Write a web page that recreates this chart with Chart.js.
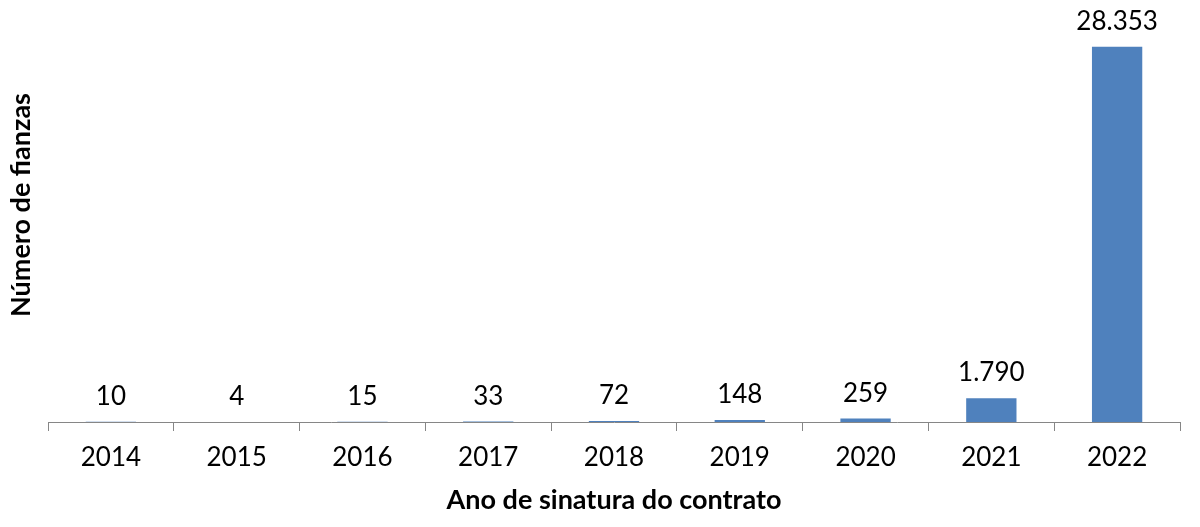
<!DOCTYPE html>
<html>
<head>
<meta charset="utf-8">
<script src="https://cdn.jsdelivr.net/npm/chart.js@4"></script>
<style>
  html, body { margin: 0; padding: 0; background: #fff; }
  #wrap { width: 1200px; height: 527px; }
</style>
</head>
<body>
<div id="wrap"><canvas id="grafica" width="1200" height="527"></canvas></div>
<script>
const anos = ['2014', '2015', '2016', '2017', '2018', '2019', '2020', '2021', '2022'];
const fianzas = [10, 4, 15, 33, 72, 148, 259, 1790, 28353];
const tituloX = 'Ano de sinatura do contrato';
const tituloY = 'Número de fianzas';

const fonte = "Lato, 'Open Sans', sans-serif";

// número com ponto como separador de milhar
function formatar(v) {
    return String(v).replace(/\B(?=(\d{3})+(?!\d))/g, '.');
}

// rótulos acima das barras + título do eixo y
const rotulos = {
    id: 'rotulos',
    afterDatasetsDraw(chart) {
        const ctx = chart.ctx;
        const meta = chart.getDatasetMeta(0);
        ctx.save();
        ctx.font = '26px ' + fonte;
        ctx.fillStyle = '#000';
        ctx.textAlign = 'center';
        ctx.textBaseline = 'alphabetic';
        meta.data.forEach(function (bar, i) {
            ctx.fillText(formatar(fianzas[i]), bar.x, bar.y - 17);
        });
        ctx.restore();

        ctx.save();
        ctx.translate(21, 205);
        ctx.rotate(-Math.PI / 2);
        ctx.font = 'bold 27px ' + fonte;
        ctx.fillStyle = '#000';
        ctx.textAlign = 'center';
        ctx.textBaseline = 'middle';
        ctx.fillText(tituloY, 0, 0);
        ctx.restore();
    }
};

document.addEventListener('DOMContentLoaded', function () {
    const ctx = document.getElementById('grafica').getContext('2d');
    new Chart(ctx, {
        type: 'bar',
        data: {
            labels: anos,
            datasets: [{
                label: tituloY,
                data: fianzas,
                backgroundColor: '#4F81BD',
                barPercentage: 0.4,
                categoryPercentage: 1.0
            }]
        },
        options: {
            responsive: false,
            animation: false,
            layout: { padding: { top: 25, right: 20, left: 0, bottom: 0 } },
            plugins: {
                legend: { display: false },
                tooltip: { enabled: false }
            },
            scales: {
                x: {
                    grid: {
                        display: true,
                        drawOnChartArea: false,
                        drawTicks: true,
                        tickLength: 9,
                        color: '#868686',
                        offset: true
                    },
                    border: { display: true, color: '#868686', width: 1 },
                    ticks: {
                        color: '#000',
                        padding: 11,
                        font: { family: fonte, size: 26 }
                    },
                    title: {
                        display: true,
                        text: tituloX,
                        color: '#000',
                        font: { family: fonte, size: 27, weight: 'bold' },
                        padding: { top: 0, bottom: 11 }
                    },
                    afterFit: function (scale) { scale.height = 105; }
                },
                y: {
                    min: 0,
                    max: 30000,
                    grid: { display: false },
                    border: { display: false },
                    ticks: { display: false },
                    afterFit: function (scale) { scale.width = 48; }
                }
            }
        },
        plugins: [rotulos]
    });
});
</script>
</body>
</html>
